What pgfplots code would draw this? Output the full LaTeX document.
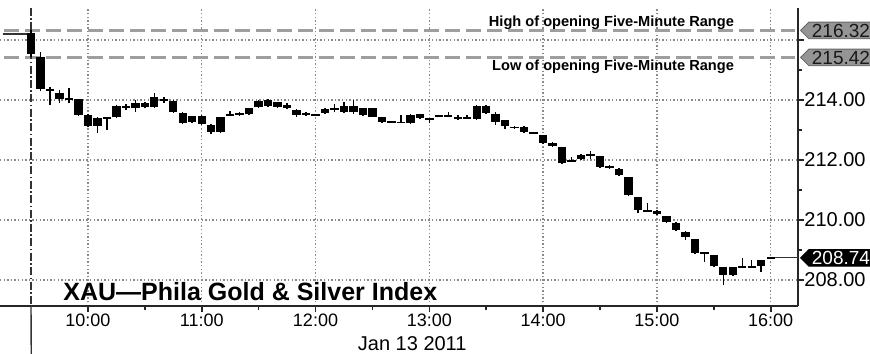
\documentclass[border=0pt]{standalone}
\usepackage{pgfplots}
\pgfplotsset{compat=1.18}
\usepackage{pgfplotstable}
\usepackage{fontspec}
\setmainfont{Liberation Sans}
\usetikzlibrary{shapes.symbols}

\definecolor{guide}{HTML}{9E9E9E}
\definecolor{gridc}{HTML}{8A8A8A}
\definecolor{tagfill}{HTML}{959595}

% 5-minute candles, t = minutes after 9:30
\pgfplotstableread{
t o h l c
0 216.25 216.32 215.42 215.55
5 215.45 215.60 214.30 214.37
10 214.37 214.44 213.83 214.30
15 214.24 214.33 213.90 214.02
20 214.05 214.40 213.90 214.03
25 214.03 214.05 213.48 213.50
30 213.50 213.52 213.10 213.13
35 213.13 213.45 212.90 213.40
40 213.38 213.42 213.00 213.42
45 213.43 213.82 213.40 213.80
50 213.78 213.87 213.67 213.76
55 213.73 214.00 213.60 213.90
60 213.77 213.93 213.72 213.90
65 213.77 214.23 213.75 214.10
70 214.05 214.10 213.90 213.97
75 213.97 214.00 213.58 213.60
80 213.57 213.60 213.20 213.23
85 213.27 213.47 213.25 213.47
90 213.47 213.50 213.18 213.20
95 213.17 213.20 212.87 212.93
100 212.93 213.45 212.90 213.43
105 213.50 213.62 213.47 213.53
110 213.53 213.60 213.47 213.55
115 213.53 213.75 213.50 213.73
120 213.77 214.00 213.75 213.97
125 213.80 214.03 213.78 214.00
130 213.93 213.95 213.75 213.77
135 213.83 213.90 213.70 213.72
140 213.67 213.70 213.43 213.50
145 213.57 213.60 213.48 213.50
150 213.50 213.52 213.48 213.50
155 213.57 213.72 213.55 213.70
160 213.70 213.87 213.60 213.68
165 213.60 213.93 213.58 213.80
170 213.80 214.00 213.55 213.60
175 213.73 213.75 213.48 213.50
180 213.73 213.75 213.42 213.43
185 213.43 213.45 213.25 213.27
190 213.27 213.28 213.25 213.25
195 213.25 213.50 213.24 213.26
200 213.23 213.52 213.20 213.50
205 213.40 213.55 213.38 213.53
210 213.38 213.40 213.23 213.37
215 213.47 213.50 213.44 213.46
220 213.43 213.60 213.42 213.50
225 213.40 213.50 213.33 213.41
230 213.40 213.50 213.38 213.41
235 213.37 213.82 213.35 213.80
240 213.80 213.82 213.55 213.57
245 213.53 213.60 213.17 213.27
250 213.33 213.35 213.03 213.13
255 213.10 213.12 213.05 213.07
260 213.10 213.12 212.90 212.93
265 212.90 212.92 212.88 212.90
270 212.83 212.85 212.55 212.57
275 212.57 212.60 212.45 212.47
280 212.43 212.45 211.88 211.90
285 211.96 212.10 211.93 211.97
290 212.03 212.20 212.00 212.17
295 212.16 212.30 212.05 212.17
300 212.13 212.15 211.75 211.77
305 211.77 211.85 211.70 211.76
310 211.70 211.72 211.48 211.50
315 211.43 211.45 210.80 210.83
320 210.77 210.78 210.23 210.33
325 210.30 210.57 210.27 210.31
330 210.30 210.32 210.18 210.20
335 210.13 210.15 209.90 209.93
340 209.90 209.92 209.65 209.67
345 209.60 209.62 209.33 209.43
350 209.37 209.38 208.88 208.90
355 208.90 208.92 208.60 208.89
360 208.83 208.85 208.45 208.47
365 208.43 208.45 207.83 208.17
370 208.17 208.45 208.15 208.43
375 208.43 208.73 208.40 208.44
380 208.43 208.67 208.40 208.44
385 208.47 208.67 208.27 208.67
390 208.72 208.74 208.72 208.74
}\candles

\begin{document}
\begin{tikzpicture}
\useasboundingbox (0,-23.5pt) rectangle (435pt,153pt);
\begin{axis}[
  at={(0,0)}, anchor=south west,
  scale only axis, width=399pt, height=149pt,
  xmin=-16.35, xmax=404.4, ymin=207.133, ymax=217.067,
  axis x line*=bottom, axis y line*=right,
  axis line style={line width=0.8pt, black!85},
  xtick={30,90,...,390},
  xticklabels={10:00,11:00,12:00,13:00,14:00,15:00,16:00},
  minor xtick={60,120,...,360},
  ytick={208,210,212,214,216},
  yticklabels={208.00,210.00,212.00,214.00,},
  minor ytick={209,211,213,215},
  tick align=outside,
  major tick length=3pt, minor tick length=2pt,
  tick style={black!85, line width=0.8pt},
  xmajorgrids, ymajorgrids,
  grid style={gridc, line width=0.7pt, dash pattern=on 0.7pt off 1.1pt},
  xticklabel style={inner sep=0pt, yshift=-0.5pt, font=\fontsize{9}{10}\selectfont},
  yticklabel style={inner sep=0pt, font=\fontsize{10}{12}\selectfont},
  /pgf/number format/assume math mode=true,
  clip=false,
]
% opening five-minute range
\addplot[guide, line width=1.5pt, dash pattern=on 7.5pt off 3pt] coordinates {(-14,216.32) (403,216.32)};
\addplot[guide, line width=1.5pt, dash pattern=on 7.5pt off 3pt] coordinates {(-14,215.42) (403,215.42)};
% previous close stub and session start marker
\addplot[black!80, line width=0.6pt] coordinates {(-15,216.2) (0,216.2)};
\addplot[black!80, line width=0.7pt, dash pattern=on 4pt off 1.2pt on 0.8pt off 1.2pt] coordinates {(0,217.067) (0,207.133)};
\draw[black!80, line width=0.7pt] (axis cs:0,207.133) -- ++(0,-22pt);

% wicks
\addplot[draw=none, mark=none, error bars/.cd, y dir=plus, y explicit,
  error mark=none, error bar style={draw=black, line width=0.75pt}]
  table[x=t, y=l, y error plus expr={\thisrow{h}-\thisrow{l}}] {\candles};
% bodies
\addplot[draw=none, mark=none, error bars/.cd, y dir=plus, y explicit,
  error mark=none, error bar style={draw=black, line width=4.2pt}]
  table[x=t, y expr={min(\thisrow{o},\thisrow{c})}, y error plus expr={abs(\thisrow{c}-\thisrow{o})}] {\candles};
% thin bodies
\addplot[black, only marks, mark=-, mark size=2.1pt, mark options={line width=0.9pt}]
  table[x=t, y expr={(\thisrow{o}+\thisrow{c})/2}] {\candles};

% last price
\addplot[black!80, line width=0.6pt] coordinates {(390,208.74) (404.4,208.74)};

\node[signal, signal to=west, fill=tagfill, draw=black!60, text=black!90,
  font=\fontsize{9.5}{10}\selectfont, inner xsep=1.5pt, inner ysep=0.8pt,
  anchor=west, xshift=1pt] at (axis cs:404.4,216.32) {216.32};
\node[signal, signal to=west, fill=tagfill, draw=black!60, text=black!90,
  font=\fontsize{9.5}{10}\selectfont, inner xsep=1.5pt, inner ysep=0.8pt,
  anchor=west, xshift=1pt] at (axis cs:404.4,215.42) {215.42};
\node[signal, signal to=west, fill=black, draw=black, text=white,
  font=\fontsize{9.5}{10}\selectfont, inner xsep=1.5pt, inner ysep=0.8pt,
  anchor=west, xshift=1pt] at (axis cs:404.4,208.74) {208.74};

\node[anchor=base east, inner sep=0pt, font=\bfseries\fontsize{7.3}{8}\selectfont]
  at (axis cs:370.8,216.45) {High of opening Five-Minute Range};
\node[anchor=base east, inner sep=0pt, font=\bfseries\fontsize{7.3}{8}\selectfont]
  at (axis cs:370.8,214.98) {Low of opening Five-Minute Range};
\node[anchor=base west, inner sep=0pt, font=\bfseries\fontsize{12.5}{14}\selectfont]
  at (axis cs:16.9,207.31) {XAU—Phila Gold \& Silver Index};
\node[anchor=base, inner sep=0pt, font=\fontsize{10}{12}\selectfont, yshift=-22pt]
  at (axis cs:201,207.133) {Jan 13 2011};
\end{axis}
\end{tikzpicture}
\end{document}
